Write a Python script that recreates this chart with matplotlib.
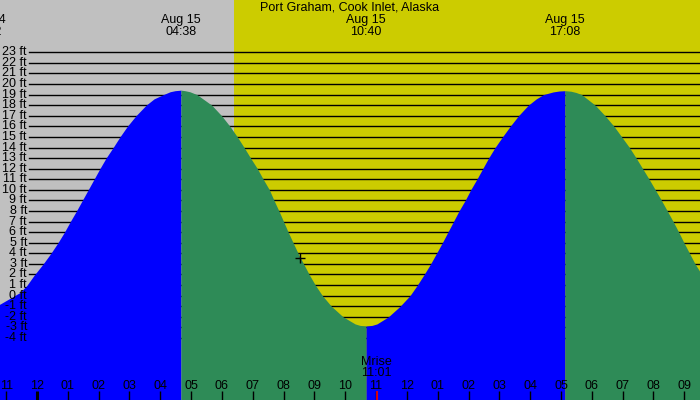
import matplotlib
matplotlib.use("Agg")
import matplotlib.pyplot as plt
import matplotlib.transforms as mtransforms
import numpy as np

# ---- data -------------------------------------------------------------
title = "Port Graham, Cook Inlet, Alaska"

# tide curve: hours after midnight Aug 15, height in ft
tide_hours = [-1.65, -1.20, -0.55, -0.32, -0.10, 0.20, 0.45, 0.68, 0.89, 1.08,
              1.28, 1.47, 1.66, 1.85, 2.04, 2.24, 2.47, 2.69, 2.93, 3.21,
              3.54, 3.80, 4.10, 4.32, 4.48, 4.67,
              4.80, 4.96, 5.19, 5.67, 5.99, 6.26, 6.50, 6.72, 6.93, 7.15,
              7.34, 7.54, 7.69, 7.85, 8.00, 8.15, 8.31, 8.47, 8.65, 8.83,
              9.03, 9.26, 9.55, 9.93, 10.32, 10.48, 10.675,
              10.87, 11.03, 11.40, 11.78, 12.10, 12.34, 12.56, 12.77, 12.96,
              13.15, 13.33, 13.51, 13.69, 13.89, 14.07, 14.27, 14.46, 14.65,
              14.86, 15.10, 15.35, 15.62, 15.94, 16.20, 16.43, 16.74, 16.94,
              17.13,
              17.32, 17.49, 17.67, 18.11, 18.43, 18.72, 18.97, 19.22, 19.44,
              19.65, 19.86, 20.06, 20.26, 20.45, 20.64, 20.82, 20.99, 21.17,
              21.35, 21.51]
tide_feet = [-1.1, -0.8, 0.3, 1.0, 1.9, 3.0, 4.0, 5.0, 6.0, 7.0,
             8.0, 9.0, 10.0, 11.0, 12.0, 13.0, 14.0, 15.0, 16.0, 17.0,
             18.0, 18.6, 19.0, 19.27, 19.37, 19.42,
             19.37, 19.27, 19.0, 18.0, 17.0, 16.0, 15.0, 14.0, 13.0, 12.0,
             11.0, 10.0, 9.0, 8.0, 7.0, 6.0, 5.0, 4.0, 3.0, 2.0,
             1.0, 0.0, -1.0, -2.0, -2.67, -2.81, -2.87,
             -2.81, -2.67, -2.0, -1.0, 0.0, 1.0, 2.0, 3.0, 4.0,
             5.0, 6.0, 7.0, 8.0, 9.0, 10.0, 11.0, 12.0, 13.0,
             14.0, 15.0, 16.0, 17.0, 18.0, 18.6, 19.0, 19.25, 19.34,
             19.37,
             19.32, 19.2, 19.0, 18.0, 17.0, 16.0, 15.0, 14.0, 13.0,
             12.0, 11.0, 10.0, 9.0, 8.0, 7.0, 6.0, 5.0, 4.0,
             3.0, 2.26]

# high / low tide events
event_hours = [-1.65, 4.67, 10.675, 17.13]
event_dates = ["Aug 14", "Aug 15", "Aug 15", "Aug 15"]
event_times = ["22:22", "04:38", "10:40", "17:08"]

sunrise_hour = 6.39
moonrise_hour = 11 + 1 / 60
moonrise_label = ["Mrise", "11:01"]
now_hour, now_feet = 8.53, 3.6

tick_hours = list(range(-1, 22))
tick_labels = ["11", "12", "01", "02", "03", "04", "05", "06", "07", "08",
               "09", "10", "11", "12", "01", "02", "03", "04", "05", "06",
               "07", "08", "09"]
level_feet = list(range(-4, 24))

# ---- style -------------------------------------------------------------
GRAY = "#C0C0C0"
YELLOW = "#CCCC00"
BLUE = "#0000FF"
GREEN = "#2E8B57"
plt.rcParams["font.family"] = ["Liberation Sans", "DejaVu Sans"]
FS = 9

W, H = 700, 400
fig = plt.figure(figsize=(7, 4), dpi=100)
ax = fig.add_axes([0, 0, 1, 1])
x0, x1 = -1.20, 21.51
y0, y1 = -9.86, 27.94
ax.set_xlim(x0, x1)
ax.set_ylim(y0, y1)
ax.axis("off")

tr_xdata = mtransforms.blended_transform_factory(ax.transData, ax.transAxes)
tr_ydata = mtransforms.blended_transform_factory(ax.transAxes, ax.transData)

# background night / day
ax.axvspan(x0, sunrise_hour, color=GRAY, lw=0, zorder=0)
ax.axvspan(sunrise_hour, x1, color=YELLOW, lw=0, zorder=0)

# level lines and labels
for f in level_feet:
    ax.axhline(f, xmin=29 / W, xmax=1, color="black", lw=1.0, zorder=1)
    ax.text(27 / W, f, f"{f} ft", transform=tr_ydata, ha="right",
            va="center", fontsize=FS, zorder=4)

# tide fill, coloured by rising / falling
th = np.array(tide_hours)
tf = np.array(tide_feet)
bounds = [0] + [int(np.argmin(np.abs(th - e))) for e in event_hours[1:]] + [len(th) - 1]
bounds = sorted(set(bounds))
for a, b in zip(bounds[:-1], bounds[1:]):
    seg_h = th[a:b + 1]
    seg_f = tf[a:b + 1]
    col = BLUE if seg_f[-1] > seg_f[0] else GREEN
    ax.fill_between(seg_h, y0, seg_f, color=col, lw=0, zorder=2)

# event labels at top
ax.text(0.5, 1 - 7.5 / H, title, transform=ax.transAxes, ha="center",
        va="center", fontsize=FS, zorder=5)
for eh, ed, et in zip(event_hours, event_dates, event_times):
    ax.text(eh, 1 - 19.7 / H, ed, transform=tr_xdata, ha="center",
            va="center", fontsize=FS, zorder=5)
    ax.text(eh, 1 - 31.7 / H, et, transform=tr_xdata, ha="center",
            va="center", fontsize=FS, zorder=5)

# hour ticks and labels
for th_, lab in zip(tick_hours, tick_labels):
    lw = 2.2 if lab == "12" and th_ == 0 else 1.0
    ax.vlines(th_, 0, 9.5 / H, transform=tr_xdata, color="black", lw=lw, zorder=5)
    ax.text(th_, (H - 385.7) / H, lab, transform=tr_xdata, ha="center",
            va="center", fontsize=FS, zorder=5)

# moonrise
ax.vlines(moonrise_hour, 0, 9.5 / H, transform=tr_xdata, color="red", lw=1.2, zorder=6)
ax.text(moonrise_hour, (H - 361.7) / H, moonrise_label[0], transform=tr_xdata,
        ha="center", va="center", fontsize=FS, zorder=5)
ax.text(moonrise_hour, (H - 373.3) / H, moonrise_label[1], transform=tr_xdata,
        ha="center", va="center", fontsize=FS, zorder=5)

# current time marker
ax.plot([now_hour], [now_feet], marker="+", color="black", ms=7, mew=1.0,
        ls="none", zorder=6)

fig.savefig("out.png", dpi=100)
